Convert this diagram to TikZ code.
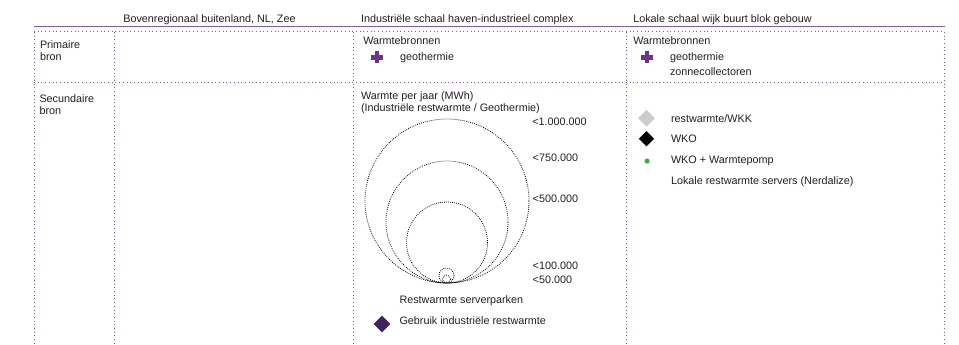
\documentclass[tikz,border=0pt]{standalone}
\usepackage{fontspec}
\setmainfont{Liberation Sans}
\usetikzlibrary{shapes.geometric}
\definecolor{gridpurple}{RGB}{128,92,182}
\definecolor{pluspurple}{RGB}{112,50,146}
\definecolor{darkdiam}{RGB}{62,35,100}
\definecolor{greydiam}{RGB}{204,204,204}
\definecolor{greendot}{RGB}{58,170,53}
\definecolor{txt}{RGB}{35,31,32}
\begin{document}
\begin{tikzpicture}[x=1pt,y=-1pt,
  lbl/.style={anchor=base west,inner sep=0pt,outer sep=0pt,text=txt,font=\fontsize{10.8}{13}\selectfont},
  gridline/.style={draw=gridpurple,line width=1pt,dash pattern=on 1pt off 2.7pt},
  headline/.style={draw=gridpurple,line width=0.9pt},
  ring/.style={draw=black,line width=0.8pt,dash pattern=on 0.8pt off 1.2pt},
  diam/.style={diamond,inner sep=0pt,minimum width=#1,minimum height=#1,draw=none},
  plussign/.pic={\fill[pluspurple] (-6,-2.2) rectangle (6,2.2);
                 \fill[pluspurple] (-2.2,-6) rectangle (2.2,6);}]
\useasboundingbox (0,0) rectangle (959,345);

% header line
\draw[headline] (34,26) -- (945,26);
% grid
\draw[gridline] (34,32) -- (944,32);
\draw[gridline] (34,82.5) -- (944,82.5);
\foreach \xx in {34.5,114.3,353,626.7,944}
  \draw[gridline] (\xx,32) -- (\xx,345);

% headers
\node[lbl] (h1) at (123.3,23) {Bovenregionaal buitenland, NL, Zee};
\node[lbl] (h2) at (361,23) {Industriële schaal haven-industrieel complex};
\node[lbl] (h3) at (633.3,23) {Lokale schaal wijk buurt blok gebouw};

% row labels
\node[lbl] (r1a) at (40,48.5) {Primaire};
\node[lbl] (r1b) at (40,60.5) {bron};
\node[lbl] (r2a) at (39.5,102.7) {Secundaire};
\node[lbl] (r2b) at (39.5,114.7) {bron};

% primary, middle
\node[lbl] (wb1) at (363.3,45) {Warmtebronnen};
\pic at (376.7,57.5) {plussign};
\node[lbl] (geo1) at (400,61) {geothermie};

% primary, right
\node[lbl] (wb2) at (633.3,45) {Warmtebronnen};
\pic at (646.7,57.5) {plussign};
\node[lbl] (geo2) at (670,61) {geothermie};
\node[lbl] (zon) at (670,76) {zonnecollectoren};

% secondary, middle
\node[lbl] (wpj) at (361,99.8) {Warmte per jaar (MWh)};
\node[lbl] (irw) at (361,111.3) {(Industriële restwarmte / Geothermie)};
\draw[ring] (447,201) circle[radius=82];
\draw[ring] (447,222) circle[radius=61];
\draw[ring] (447,242.5) circle[radius=40.5];
\draw[ring] (446.5,275.5) circle[radius=7.5];
\draw[ring] (446.5,279) circle[radius=4];
\node[lbl] (v1) at (532.3,125) {<1.000.000};
\node[lbl] (v2) at (532.7,161.5) {<750.000};
\node[lbl] (v3) at (532.7,202.5) {<500.000};
\node[lbl] (v4) at (532.7,269.3) {<100.000};
\node[lbl] (v5) at (532.7,283) {<50.000};
\node[lbl] (rsp) at (399.5,303.8) {Restwarmte serverparken};
\node[diam=17pt,fill=darkdiam] (dgi) at (382,324) {};
\node[lbl] (gir) at (399.5,324.5) {Gebruik industriële restwarmte};

% secondary, right
\node[diam=17pt,fill=greydiam] (dwkk) at (646.5,118.3) {};
\node[lbl] (twkk) at (671,122.7) {restwarmte/WKK};
\node[diam=15.5pt,fill=black] (dwko) at (646.5,138.7) {};
\node[lbl] (twko) at (671,142) {WKO};
\node[circle,inner sep=0pt,minimum size=5pt,fill=greendot] (dwp) at (647,161) {};
\node[lbl] (twp) at (671,163.5) {WKO + Warmtepomp};
\node[lbl] (tner) at (671,184.5) {Lokale restwarmte servers (Nerdalize)};
\end{tikzpicture}
\end{document}
